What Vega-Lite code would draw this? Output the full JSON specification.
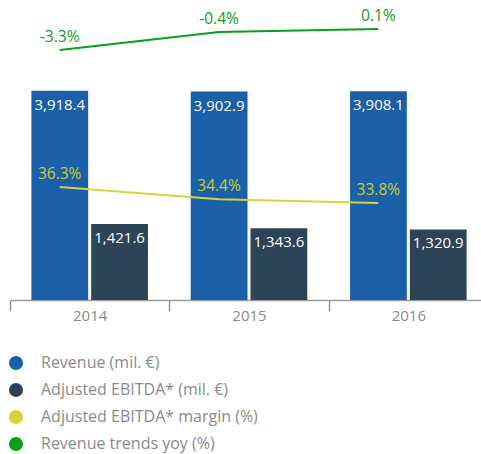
{
  "$schema": "https://vega.github.io/schema/vega-lite/v6.json",
  "width": 478,
  "height": 300,
  "padding": {"left": 8, "top": 0, "right": 0, "bottom": 6},
  "background": "white",
  "config": {
    "font": "Open Sans",
    "view": {"stroke": null},
    "locale": {"number": {"decimal": ".", "thousands": ",", "grouping": [3], "currency": ["", "€"], "minus": "-"}}
  },
  "data": {
    "values": [
      {"year": "2014", "series": "Revenue (mil. €)", "value": 3918.4},
      {"year": "2015", "series": "Revenue (mil. €)", "value": 3902.9},
      {"year": "2016", "series": "Revenue (mil. €)", "value": 3908.1},
      {"year": "2014", "series": "Adjusted EBITDA* (mil. €)", "value": 1421.6},
      {"year": "2015", "series": "Adjusted EBITDA* (mil. €)", "value": 1343.6},
      {"year": "2016", "series": "Adjusted EBITDA* (mil. €)", "value": 1320.9},
      {"year": "2014", "series": "Adjusted EBITDA* margin (%)", "value": 0.363},
      {"year": "2015", "series": "Adjusted EBITDA* margin (%)", "value": 0.344},
      {"year": "2016", "series": "Adjusted EBITDA* margin (%)", "value": 0.338},
      {"year": "2014", "series": "Revenue trends yoy (%)", "value": -0.033},
      {"year": "2015", "series": "Revenue trends yoy (%)", "value": -0.004},
      {"year": "2016", "series": "Revenue trends yoy (%)", "value": 0.001}
    ]
  },
  "encoding": {
    "x": {
      "field": "year",
      "type": "nominal",
      "scale": {"paddingInner": 0, "paddingOuter": 0},
      "axis": {
        "title": null,
        "labelAngle": 0,
        "domainColor": "#9a9a9a",
        "domainWidth": 1.5,
        "tickColor": "#9a9a9a",
        "tickWidth": 1.5,
        "tickSize": 11,
        "tickBand": "extent",
        "labelFontSize": 15,
        "labelColor": "#8a8a8a",
        "labelPadding": -3,
        "labelBaseline": "top"
      }
    }
  },
  "layer": [
    {
      "transform": [{"filter": {"field": "series", "oneOf": ["Revenue (mil. €)", "Adjusted EBITDA* (mil. €)"]}}],
      "mark": {"type": "bar"},
      "encoding": {
        "xOffset": {"field": "series", "type": "nominal", "sort": ["Revenue (mil. €)", "Adjusted EBITDA* (mil. €)"], "scale": {"paddingInner": 0.05, "paddingOuter": 0.358}},
        "y": {"field": "value", "type": "quantitative", "scale": {"domain": [0, 5616], "nice": false, "zero": true}, "axis": null},
        "color": {
          "field": "series",
          "type": "nominal",
          "scale": {
            "domain": ["Revenue (mil. €)", "Adjusted EBITDA* (mil. €)", "Adjusted EBITDA* margin (%)", "Revenue trends yoy (%)"],
            "range": ["#1a5fa8", "#2d4357", "#d1d63d", "#0b9e1b"]
          },
          "legend": {
            "title": null,
            "orient": "none",
            "legendX": -2,
            "legendY": 355,
            "direction": "vertical",
            "symbolType": "circle",
            "symbolSize": 196,
            "symbolStrokeWidth": 0,
            "labelFontSize": 16,
            "labelColor": "#8a8a8a",
            "labelOffset": 17,
            "rowPadding": 11,
            "padding": 0,
            "labelLimit": 400
          }
        }
      }
    },
    {
      "transform": [{"filter": {"field": "series", "oneOf": ["Revenue (mil. €)", "Adjusted EBITDA* (mil. €)"]}}],
      "mark": {"type": "text", "color": "white", "fontSize": 15, "baseline": "middle", "dy": 14},
      "encoding": {
        "xOffset": {"field": "series", "type": "nominal", "sort": ["Revenue (mil. €)", "Adjusted EBITDA* (mil. €)"], "scale": {"paddingInner": 0.05, "paddingOuter": 0.358}},
        "y": {"field": "value", "type": "quantitative", "scale": {"domain": [0, 5616], "nice": false, "zero": true}, "axis": null},
        "text": {"field": "value", "type": "quantitative", "format": ",.1f"}
      }
    },
    {
      "transform": [{"filter": {"field": "series", "equal": "Adjusted EBITDA* margin (%)"}}],
      "mark": {"type": "line", "color": "#d1d63d", "strokeWidth": 2, "xOffset": -30},
      "encoding": {
        "y": {"field": "value", "type": "quantitative", "scale": {"domain": [0.1864, 0.6552], "nice": false, "zero": false}, "axis": null}
      }
    },
    {
      "transform": [{"filter": {"field": "series", "equal": "Adjusted EBITDA* margin (%)"}}],
      "mark": {"type": "text", "color": "#c9cf2e", "fontSize": 15.5, "baseline": "middle", "dy": -13, "xOffset": -30},
      "encoding": {
        "y": {"field": "value", "type": "quantitative", "scale": {"domain": [0.1864, 0.6552], "nice": false, "zero": false}, "axis": null},
        "text": {"field": "value", "type": "quantitative", "format": ".1%"}
      }
    },
    {
      "transform": [{"filter": {"field": "series", "equal": "Revenue trends yoy (%)"}}],
      "mark": {"type": "line", "color": "#0b9e1b", "strokeWidth": 2, "xOffset": -30},
      "encoding": {
        "y": {"field": "value", "type": "quantitative", "scale": {"domain": [-0.4375, 0.0479], "nice": false, "zero": false}, "axis": null}
      }
    },
    {
      "transform": [{"filter": {"field": "series", "equal": "Revenue trends yoy (%)"}}],
      "mark": {"type": "text", "color": "#0b9e1b", "fontSize": 15.5, "baseline": "middle", "dy": -13, "xOffset": -30},
      "encoding": {
        "y": {"field": "value", "type": "quantitative", "scale": {"domain": [-0.4375, 0.0479], "nice": false, "zero": false}, "axis": null},
        "text": {"field": "value", "type": "quantitative", "format": ".1%"}
      }
    }
  ],
  "resolve": {"scale": {"y": "independent"}}
}
